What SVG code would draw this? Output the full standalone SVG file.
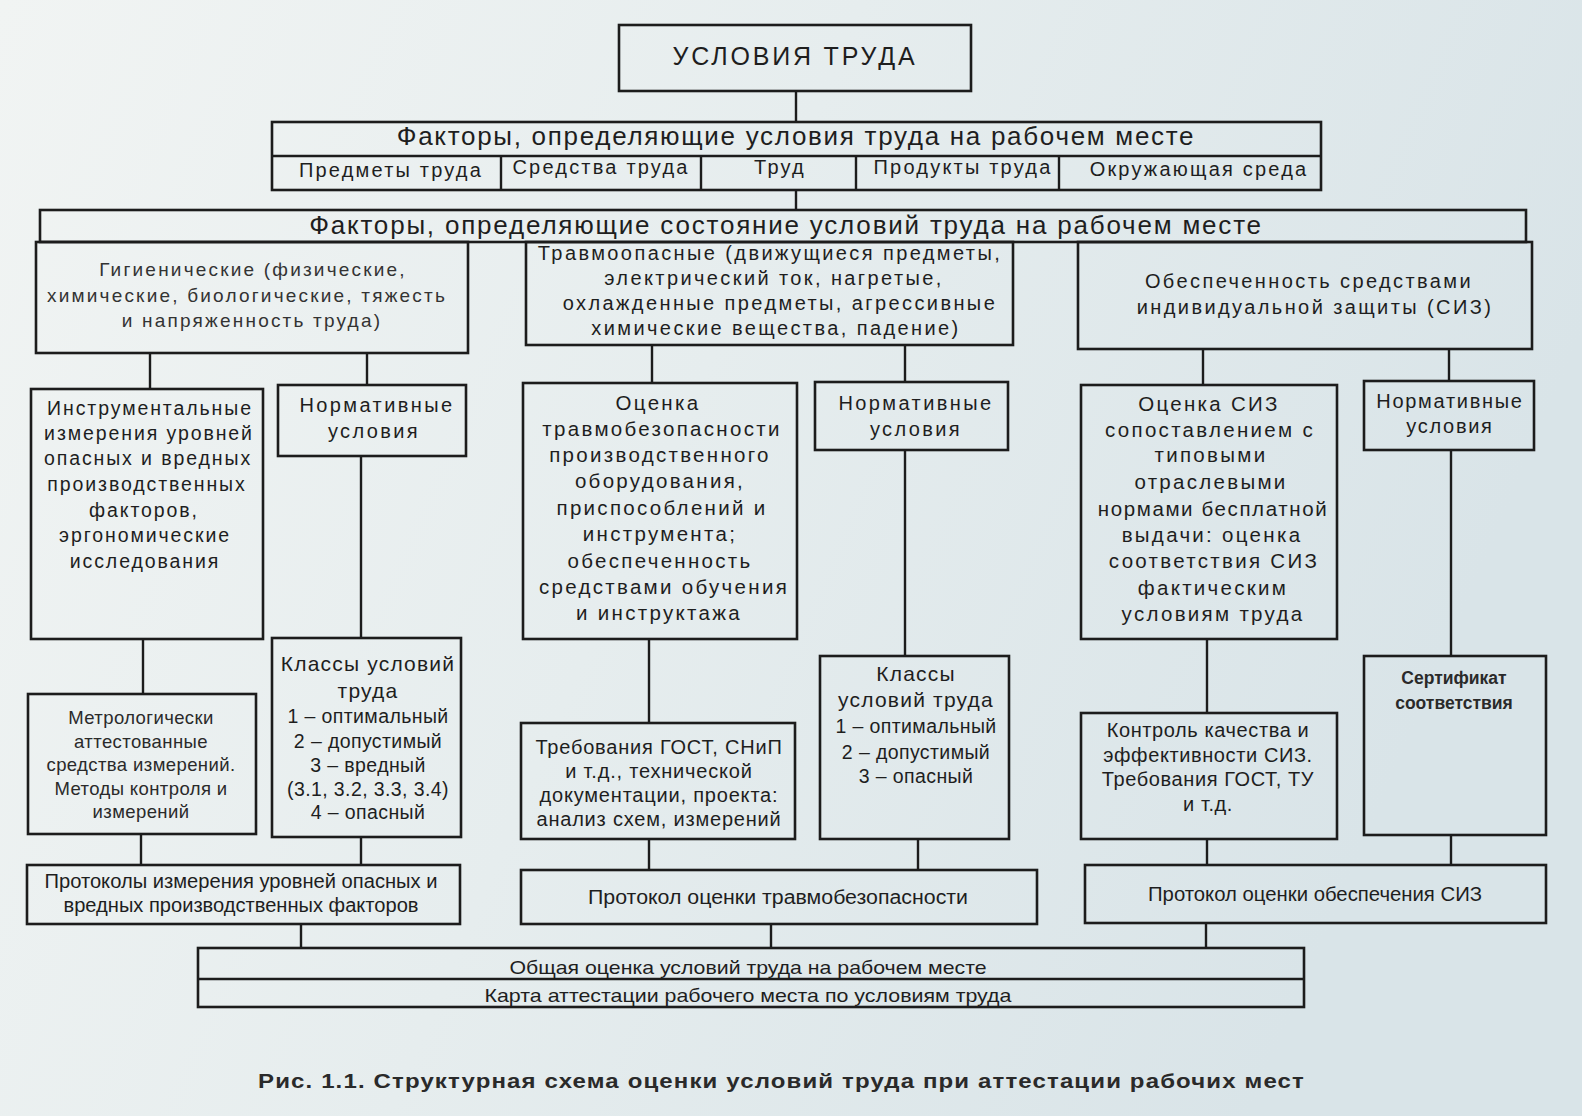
<svg xmlns="http://www.w3.org/2000/svg" width="1582" height="1116" viewBox="0 0 1582 1116">
<defs>
<linearGradient id="bg" x1="0" y1="0" x2="1" y2="0.3">
<stop offset="0" stop-color="#f1f4f3"/>
<stop offset="0.5" stop-color="#e6edee"/>
<stop offset="1" stop-color="#d9e4e8"/>
</linearGradient>
</defs>
<style>
rect.b{fill:none;stroke:#1c1c1c;stroke-width:2.6}
line{stroke:#1c1c1c;stroke-width:2.4;fill:none}
text{font-family:"Liberation Sans",Arial,sans-serif;fill:#1e1e1e;text-anchor:middle}
.s{font-size:20px;letter-spacing:2.2px}
.t{font-size:20px;letter-spacing:2.4px}
.m{font-size:19.5px;letter-spacing:1.9px}
.o{font-size:20.5px;letter-spacing:2.3px}
.g{font-size:19px;letter-spacing:2.2px;fill:#333}
.nv{font-size:20px;letter-spacing:2.4px}
.kh{font-size:21px;letter-spacing:1.2px}
.k{font-size:19.5px;letter-spacing:0.4px}
.r{font-size:20px;letter-spacing:0.8px}
.n{font-size:18.5px;letter-spacing:0.4px;fill:#2a2a2a}
.p{font-size:20px}
.q{font-size:19px}
.cap{font-size:21px;font-weight:bold;letter-spacing:1px;fill:#2a2a2a}
</style>
<rect x="0" y="0" width="1582" height="1116" fill="url(#bg)"/>

<g id="connectors">
<line x1="796" y1="91" x2="796" y2="122"/>
<line x1="796" y1="190" x2="796" y2="210"/>
<line x1="150" y1="353" x2="150" y2="389"/>
<line x1="367" y1="353" x2="367" y2="385"/>
<line x1="652" y1="345" x2="652" y2="383"/>
<line x1="905" y1="345" x2="905" y2="382"/>
<line x1="1203" y1="349" x2="1203" y2="385"/>
<line x1="1449" y1="349" x2="1449" y2="381"/>
<line x1="143" y1="639" x2="143" y2="694"/>
<line x1="361" y1="456" x2="361" y2="638"/>
<line x1="649" y1="639" x2="649" y2="723"/>
<line x1="905" y1="450" x2="905" y2="656"/>
<line x1="1207" y1="639" x2="1207" y2="713"/>
<line x1="1451" y1="450" x2="1451" y2="656"/>
<line x1="141" y1="834" x2="141" y2="865"/>
<line x1="361" y1="837" x2="361" y2="865"/>
<line x1="649" y1="839" x2="649" y2="870"/>
<line x1="918" y1="839" x2="918" y2="870"/>
<line x1="1207" y1="839" x2="1207" y2="865"/>
<line x1="1451" y1="835" x2="1451" y2="865"/>
<line x1="301" y1="924" x2="301" y2="948"/>
<line x1="771" y1="924" x2="771" y2="948"/>
<line x1="1206" y1="923" x2="1206" y2="948"/>
</g>

<g id="n-top">
<rect class="b" x="619" y="25" width="352" height="66"/>
<text x="795" y="65" style="font-size:25px;letter-spacing:2.8px">УСЛОВИЯ ТРУДА</text>
</g>

<g id="n-factors">
<rect class="b" x="272" y="122" width="1049" height="68"/>
<line x1="272" y1="156" x2="1321" y2="156"/>
<line x1="501" y1="156" x2="501" y2="190"/>
<line x1="701" y1="156" x2="701" y2="190"/>
<line x1="856" y1="156" x2="856" y2="190"/>
<line x1="1059" y1="156" x2="1059" y2="190"/>
<text x="796" y="145" style="font-size:26px;letter-spacing:1.7px">Факторы, определяющие условия труда на рабочем месте</text>
<text class="s" x="391" y="177">Предметы труда</text>
<text class="s" x="601" y="174">Средства труда</text>
<text class="s" x="780" y="174">Труд</text>
<text class="s" x="963" y="174">Продукты труда</text>
<text class="s" x="1199" y="176">Окружающая среда</text>
</g>

<g id="n-state">
<rect class="b" x="40" y="210" width="1486" height="32"/>
<text x="786" y="234" style="font-size:26px;letter-spacing:1.8px">Факторы, определяющие состояние условий труда на рабочем месте</text>
</g>

<g id="n-hyg">
<rect class="b" x="36" y="242" width="432" height="111"/>
<text class="g" x="253" y="276">Гигиенические (физические,</text>
<text class="g" x="247" y="302">химические, биологические, тяжесть</text>
<text class="g" x="252" y="327">и напряженность труда)</text>
</g>

<g id="n-travmo">
<rect class="b" x="526" y="242" width="487" height="103"/>
<text class="t" x="770" y="260">Травмоопасные (движущиеся предметы,</text>
<text class="t" x="774" y="285">электрический ток, нагретые,</text>
<text class="t" x="780" y="310">охлажденные предметы, агрессивные</text>
<text class="t" x="776" y="335">химические вещества, падение)</text>
</g>

<g id="n-siz">
<rect class="b" x="1078" y="242" width="454" height="107"/>
<text class="t" x="1309" y="288">Обеспеченность средствами</text>
<text class="t" x="1315" y="314">индивидуальной защиты (СИЗ)</text>
</g>

<g id="n-instr">
<rect class="b" x="31" y="389" width="232" height="250"/>
<text class="m" x="150" y="415">Инструментальные</text>
<text class="m" x="149" y="440">измерения уровней</text>
<text class="m" x="148" y="465">опасных и вредных</text>
<text class="m" x="147" y="491">производственных</text>
<text class="m" x="144" y="517">факторов,</text>
<text class="m" x="145" y="542">эргономические</text>
<text class="m" x="145" y="568">исследования</text>
</g>

<g id="n-norm1">
<rect class="b" x="278" y="385" width="188" height="71"/>
<text class="nv" x="377" y="412">Нормативные</text>
<text class="nv" x="374" y="438">условия</text>
</g>

<g id="n-ocenka">
<rect class="b" x="523" y="383" width="274" height="256"/>
<text class="o" x="658" y="410">Оценка</text>
<text class="o" x="662" y="436">травмобезопасности</text>
<text class="o" x="660" y="462">производственного</text>
<text class="o" x="660" y="488">оборудования,</text>
<text class="o" x="662" y="515">приспособлений и</text>
<text class="o" x="660" y="541">инструмента;</text>
<text class="o" x="660" y="568">обеспеченность</text>
<text class="o" x="664" y="594">средствами обучения</text>
<text class="o" x="659" y="620">и инструктажа</text>
</g>

<g id="n-norm2">
<rect class="b" x="815" y="382" width="193" height="68"/>
<text class="nv" x="916" y="410">Нормативные</text>
<text class="nv" x="916" y="436">условия</text>
</g>

<g id="n-ocsiz">
<rect class="b" x="1081" y="385" width="256" height="254"/>
<text class="o" x="1209" y="411">Оценка СИЗ</text>
<text class="o" x="1210" y="437">сопоставлением с</text>
<text class="o" x="1211" y="462">типовыми</text>
<text class="o" x="1211" y="489">отраслевыми</text>
<text class="o" x="1213" y="516" style="letter-spacing:1.6px">нормами бесплатной</text>
<text class="o" x="1212" y="542">выдачи: оценка</text>
<text class="o" x="1214" y="568">соответствия СИЗ</text>
<text class="o" x="1213" y="595">фактическим</text>
<text class="o" x="1213" y="621">условиям труда</text>
</g>

<g id="n-norm3">
<rect class="b" x="1364" y="381" width="170" height="69"/>
<text x="1450" y="408" style="font-size:20px;letter-spacing:1.7px">Нормативные</text>
<text x="1450" y="433" style="font-size:20px;letter-spacing:1.7px">условия</text>
</g>

<g id="n-metro">
<rect class="b" x="28" y="694" width="228" height="140"/>
<text class="n" x="141" y="724">Метрологически</text>
<text class="n" x="141" y="748">аттестованные</text>
<text class="n" x="141" y="771">средства измерений.</text>
<text class="n" x="141" y="795">Методы контроля и</text>
<text class="n" x="141" y="818">измерений</text>
</g>

<g id="n-klass1">
<rect class="b" x="272" y="638" width="189" height="199"/>
<text class="kh" x="368" y="671">Классы условий</text>
<text class="kh" x="368" y="698">труда</text>
<text class="k" x="368" y="723">1 – оптимальный</text>
<text class="k" x="368" y="748">2 – допустимый</text>
<text class="k" x="368" y="772">3 – вредный</text>
<text class="k" x="368" y="796">(3.1, 3.2, 3.3, 3.4)</text>
<text class="k" x="368" y="819">4 – опасный</text>
</g>

<g id="n-treb">
<rect class="b" x="521" y="723" width="274" height="116"/>
<text class="r" x="659" y="754">Требования ГОСТ, СНиП</text>
<text class="r" x="659" y="778">и т.д., технической</text>
<text class="r" x="659" y="802">документации, проекта:</text>
<text class="r" x="659" y="826">анализ схем, измерений</text>
</g>

<g id="n-klass2">
<rect class="b" x="820" y="656" width="189" height="183"/>
<text class="kh" x="916" y="681">Классы</text>
<text class="kh" x="916" y="707">условий труда</text>
<text class="k" x="916" y="733">1 – оптимальный</text>
<text class="k" x="916" y="759">2 – допустимый</text>
<text class="k" x="916" y="783">3 – опасный</text>
</g>

<g id="n-kontrol">
<rect class="b" x="1081" y="713" width="256" height="126"/>
<text class="r" x="1208" y="737" style="letter-spacing:0.6px">Контроль качества и</text>
<text class="r" x="1208" y="762" style="letter-spacing:0.6px">эффективности СИЗ.</text>
<text class="r" x="1208" y="786" style="letter-spacing:0.6px">Требования ГОСТ, ТУ</text>
<text class="r" x="1208" y="811" style="letter-spacing:0.6px">и т.д.</text>
</g>

<g id="n-sert">
<rect class="b" x="1364" y="656" width="182" height="179"/>
<text x="1454" y="684" style="font-size:17.5px;font-weight:bold;fill:#2a2a2a">Сертификат</text>
<text x="1454" y="709" style="font-size:17.5px;font-weight:bold;fill:#2a2a2a">соответствия</text>
</g>

<g id="n-prot1">
<rect class="b" x="27" y="865" width="433" height="59"/>
<text class="p" x="241" y="888" textLength="393" lengthAdjust="spacingAndGlyphs">Протоколы измерения уровней опасных и</text>
<text class="p" x="241" y="912" textLength="355" lengthAdjust="spacingAndGlyphs">вредных производственных факторов</text>
</g>

<g id="n-prot2">
<rect class="b" x="521" y="870" width="516" height="54"/>
<text class="p" x="778" y="904" textLength="380" lengthAdjust="spacingAndGlyphs">Протокол оценки травмобезопасности</text>
</g>

<g id="n-prot3">
<rect class="b" x="1085" y="865" width="461" height="58"/>
<text class="p" x="1315" y="901" textLength="334" lengthAdjust="spacingAndGlyphs">Протокол оценки обеспечения СИЗ</text>
</g>

<g id="n-total">
<rect class="b" x="198" y="948" width="1106" height="59"/>
<line x1="198" y1="979" x2="1304" y2="979"/>
<text class="q" x="748" y="974" textLength="477" lengthAdjust="spacingAndGlyphs">Общая оценка условий труда на рабочем месте</text>
<text class="q" x="748" y="1002" textLength="527" lengthAdjust="spacingAndGlyphs">Карта аттестации рабочего места по условиям труда</text>
</g>

<text class="cap" x="258" y="1088" style="text-anchor:start" textLength="1047" lengthAdjust="spacingAndGlyphs">Рис. 1.1. Структурная схема оценки условий труда при аттестации рабочих мест</text>
</svg>
